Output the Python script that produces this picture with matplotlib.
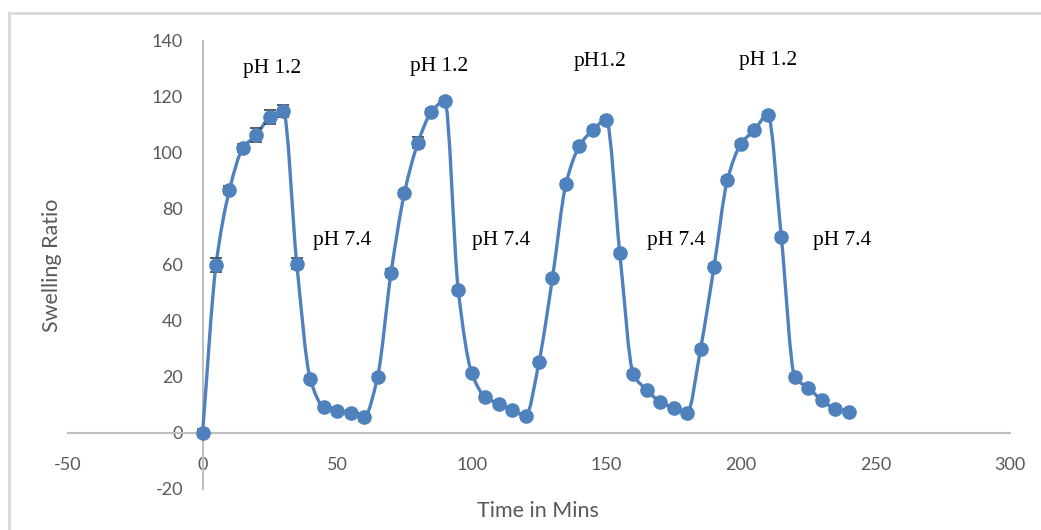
import numpy as np
import matplotlib.pyplot as plt
from matplotlib.path import Path
from matplotlib.patches import PathPatch
from matplotlib.lines import Line2D

plt.rcParams["axes.unicode_minus"] = False

# ------------------------------------------------------------
# Dados
# ------------------------------------------------------------
time_min = np.arange(0, 245, 5)

swelling = [
    0.0, 60.0, 86.8, 101.8, 106.4, 112.9, 115.0, 60.4, 19.3, 9.3, 7.9, 7.1, 5.7,
    20.0, 57.1, 85.7, 103.6, 114.6, 118.6, 51.0, 21.4, 12.9, 10.4, 8.2, 6.1,
    25.4, 55.4, 88.9, 102.5, 108.2, 111.8, 64.3, 21.1, 15.4, 11.1, 8.9, 7.1,
    30.0, 59.3, 90.4, 103.2, 108.2, 113.6, 70.0, 20.0, 16.1, 11.8, 8.6, 7.5,
]

swelling_err = [
    1.5, 2.5, 1.5, 1.5, 2.5, 2.5, 2.0, 2.0, 1.0, 1.0, 1.0, 1.0, 1.5,
    1.0, 1.5, 1.0, 2.0, 1.0, 1.0, 1.0, 1.0, 1.0, 1.0, 1.0, 1.0,
    1.0, 1.0, 1.0, 1.0, 1.0, 1.0, 1.0, 1.0, 1.0, 1.0, 1.0, 1.0,
    1.0, 1.0, 1.0, 1.0, 1.0, 1.0, 1.0, 1.0, 1.0, 1.0, 1.0, 1.0,
]

label_text = ["pH 1.2", "pH 1.2", "pH1.2", "pH 1.2",
              "pH 7.4", "pH 7.4", "pH 7.4", "pH 7.4"]
label_x = [26, 88, 147.5, 210, 52, 111, 176, 237.5]
label_y = [130, 131, 132.5, 133, 68.6, 68.6, 68.6, 68.6]

BLUE = "#4F81BD"
GRAY_AXIS = "#BFBFBF"
GRAY_TEXT = "#595959"


def smooth_path(x, y):
    """Curva suave sem overshoot (Hermite monotônico -> Bezier cúbica)."""
    x = np.asarray(x, float)
    y = np.asarray(y, float)
    h = np.diff(x)
    d = np.diff(y) / h
    n = len(x)
    m = np.zeros(n)
    m[0], m[-1] = d[0], d[-1]
    for i in range(1, n - 1):
        if d[i - 1] * d[i] <= 0:
            m[i] = 0.0
        else:
            w1 = 2 * h[i] + h[i - 1]
            w2 = h[i] + 2 * h[i - 1]
            m[i] = (w1 + w2) / (w1 / d[i - 1] + w2 / d[i])
    verts = [(x[0], y[0])]
    codes = [Path.MOVETO]
    for i in range(n - 1):
        dx = h[i] / 3.0
        verts += [(x[i] + dx, y[i] + m[i] * dx),
                  (x[i + 1] - dx, y[i + 1] - m[i + 1] * dx),
                  (x[i + 1], y[i + 1])]
        codes += [Path.CURVE4] * 3
    return Path(verts, codes)


fig = plt.figure(figsize=(10.41, 5.30), dpi=100)
ax = fig.add_axes([0.0653, 0.0774, 0.905, 0.8453])

ax.set_xlim(-50, 300)
ax.set_ylim(-20, 140)

# Linha suavizada
ax.add_patch(PathPatch(smooth_path(time_min, swelling), facecolor="none",
                       edgecolor=BLUE, linewidth=2.4, zorder=3))

# Barras de erro + marcadores
ax.errorbar(time_min, swelling, yerr=swelling_err, fmt="none",
            ecolor="#404040", elinewidth=1.0, capsize=4.3, capthick=1.2, zorder=4)
ax.plot(time_min, swelling, linestyle="none", marker="o", markersize=9.5,
        color=BLUE, zorder=5)

# Rótulos de pH
for t, xx, yy in zip(label_text, label_x, label_y):
    ax.text(xx, yy, t, ha="center", va="center", fontsize=15.5,
            family="Liberation Serif", color="black", zorder=6)

# Eixos cruzando em zero (estilo Excel)
for side in ("top", "right"):
    ax.spines[side].set_visible(False)
ax.spines["left"].set_position(("data", 0))
ax.spines["bottom"].set_position(("data", 0))
for side in ("left", "bottom"):
    ax.spines[side].set_color(GRAY_AXIS)
    ax.spines[side].set_linewidth(1.5)

ax.set_xticks(np.arange(-50, 301, 50))
ax.set_yticks(np.arange(-20, 141, 20))
ax.tick_params(axis="both", length=0, labelsize=13, labelcolor=GRAY_TEXT)
ax.tick_params(axis="y", pad=14)
ax.tick_params(axis="x", pad=17)
for lbl in ax.get_xticklabels() + ax.get_yticklabels():
    lbl.set_family("Lato")

fig.text(0.050, 0.4985, "Swelling Ratio", rotation=90, ha="center", va="center",
         fontsize=15.5, color=GRAY_TEXT, family="Lato")
fig.text(0.517, 0.036, "Time in Mins", ha="center", va="center",
         fontsize=15.5, color=GRAY_TEXT, family="Lato")

# Moldura do gráfico (topo e esquerda)
fig.add_artist(Line2D([0.0086, 0.999], [0.9755, 0.9755], color="#D9D9D9",
                      linewidth=2, transform=fig.transFigure))
fig.add_artist(Line2D([0.0086, 0.0086], [0.0, 0.9755], color="#D9D9D9",
                      linewidth=2, transform=fig.transFigure))

fig.savefig("out.png", dpi=100)
